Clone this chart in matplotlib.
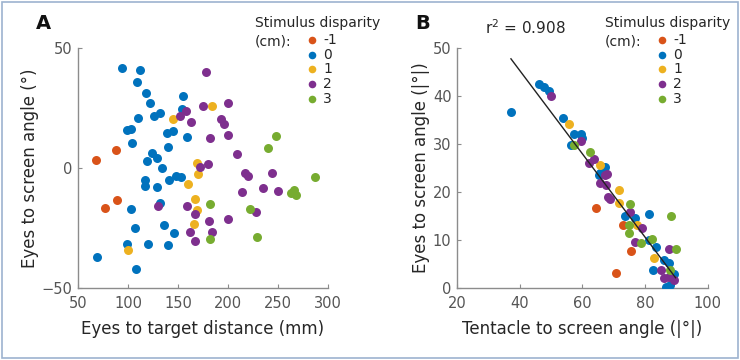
import numpy as np
import matplotlib
matplotlib.use("Agg")
import matplotlib.pyplot as plt
from matplotlib.patches import Rectangle

# disparity groups and MATLAB default colours
disparities = ["-1", "0", "1", "2", "3"]
colors = ["#D95319", "#0072BD", "#EDB120", "#7E2F8E", "#77AC30"]

# Panel A: eyes-to-target distance (mm) vs eyes-to-screen angle (deg)
a_dist = {
    "-1": [68, 88, 77, 89],
    "0": [94, 112, 109, 118, 122, 155, 154, 110, 126, 132, 99, 103, 139, 145, 159,
          104, 140, 124, 119, 129, 134, 117, 117, 129, 141, 148, 153, 132, 103, 107,
          136, 146, 99, 120, 140, 69, 108],
    "1": [145, 184, 169, 170, 100, 160, 167, 169, 166],
    "2": [178, 152, 158, 175, 200, 163, 193, 196, 182, 200, 209, 172, 180, 217, 220,
          244, 130, 159, 167, 162, 167, 181, 184, 200, 214, 228, 235, 250],
    "3": [248, 240, 287, 182, 182, 222, 229, 263, 266, 268],
}
a_angle = {
    "-1": [3.1, 7.6, -16.6, -13.3],
    "0": [41.6, 40.9, 35.6, 31.2, 27.0, 29.8, 24.4, 21.0, 21.5, 23.0, 15.6, 16.3, 14.6,
          15.3, 13.0, 10.2, 8.7, 6.3, 2.8, 4.0, 0.0, -5.1, -7.6, -7.9, -5.1, -3.4, -3.7,
          -14.8, -17.2, -25.1, -23.7, -27.2, -31.8, -31.8, -32.1, -36.9, -42.2],
    "1": [20.3, 25.8, 2.0, -2.7, -34.3, -6.6, -12.9, -17.6, -23.4],
    "2": [40.0, 21.7, 23.7, 25.8, 27.2, 19.1, 20.3, 18.3, 12.4, 13.7, 5.9, 0.2, 1.5,
          -1.9, -3.3, -2.0, -16.0, -15.9, -19.1, -26.8, -30.4, -22.0, -26.8, -21.3,
          -10.0, -18.4, -8.3, -9.7],
    "3": [13.3, 8.4, -3.7, -15.0, -29.8, -17.3, -28.6, -10.4, -9.3, -11.3],
}

# Panel B: tentacle-to-screen angle vs eyes-to-screen angle (absolute, deg)
b_tent = {
    "-1": [64.3, 73.0, 75.6, 70.7],
    "0": [37.2, 46.2, 47.6, 49.4, 53.8, 57.4, 59.5, 60.0, 56.2, 67.2, 65.7, 65.2, 73.7,
          76.9, 81.2, 81.1, 83.3, 86.0, 82.6, 87.5, 86.7, 88.0, 89.1],
    "1": [55.8, 65.5, 71.5, 71.5, 77.4, 82.8],
    "2": [50.0, 59.5, 62.0, 63.6, 67.7, 67.3, 67.6, 65.7, 68.0, 68.9, 75.3, 79.0, 76.6,
          87.5, 84.9, 87.5, 89.1, 85.9],
    "3": [57.4, 62.5, 75.3, 88.3, 74.7, 75.0, 78.7, 82.2, 89.7, 88.0],
}
b_eye = {
    "-1": [16.6, 13.2, 7.7, 3.1],
    "0": [36.7, 42.4, 41.9, 41.1, 35.5, 32.1, 32.1, 31.2, 29.7, 25.1, 23.9, 23.5, 15.0,
          14.5, 15.5, 10.0, 8.6, 5.8, 3.8, 5.2, 0.2, 0.6, 3.0],
    "1": [34.2, 25.7, 20.4, 17.7, 13.1, 6.3],
    "2": [40.0, 30.6, 26.0, 26.8, 23.7, 23.5, 21.4, 21.8, 19.0, 18.5, 15.9, 12.4, 9.6,
          8.2, 3.8, 2.3, 1.6, 2.0],
    "3": [29.7, 28.4, 17.4, 15.0, 13.2, 11.4, 9.4, 10.3, 8.1, 3.7],
}

axis_gray = "#8c8c8c"
tick_gray = "#555555"
label_col = "#262626"

fig = plt.figure(figsize=(7.4, 3.6), dpi=100)
fig.patches.append(Rectangle((0.003, 0.005), 0.994, 0.99, transform=fig.transFigure,
                             fill=False, edgecolor="#9db3cf", linewidth=1.2))

axA = fig.add_axes([0.1054, 0.2, 0.338, 0.667])
axB = fig.add_axes([0.6176, 0.2, 0.339, 0.667])


def style_axis(ax):
    for side in ["top", "right"]:
        ax.spines[side].set_visible(False)
    for side in ["left", "bottom"]:
        ax.spines[side].set_color(axis_gray)
        ax.spines[side].set_linewidth(1.0)
    ax.tick_params(direction="in", length=3, color=axis_gray, labelcolor=tick_gray,
                   labelsize=10.5)
    ax.tick_params(axis="x", pad=6)
    ax.tick_params(axis="y", pad=4)


def draw_legend(ax, x0):
    # MATLAB-style legend: title line, then "(cm):" beside the first entry
    ax.text(x0, 1.104, "Stimulus disparity", transform=ax.transAxes, fontsize=10,
            color=label_col, ha="left", va="center")
    ax.text(x0, 1.027, "(cm):", transform=ax.transAxes, fontsize=10,
            color=label_col, ha="left", va="center")
    for i, (d, c) in enumerate(zip(disparities, colors)):
        yy = 1.033 - i * 0.0615
        ax.scatter([x0 + 0.228], [yy], s=30, color=c, transform=ax.transAxes,
                   clip_on=False, linewidths=0)
        ax.text(x0 + 0.272, yy, d, transform=ax.transAxes, fontsize=10,
                color=label_col, ha="left", va="center")


# Panel A
for d, c in zip(disparities, colors):
    axA.scatter(a_dist[d], a_angle[d], s=42, color=c, linewidths=0, zorder=3)
axA.set_xlim(50, 300)
axA.set_ylim(-50, 50)
axA.set_xticks([50, 100, 150, 200, 250, 300])
axA.set_yticks([-50, 0, 50])
style_axis(axA)
axA.set_xlabel("Eyes to target distance (mm)", fontsize=12, color=label_col, labelpad=6)
axA.set_ylabel("Eyes to screen angle (°)", fontsize=12, color=label_col, labelpad=2)
draw_legend(axA, 0.708)
fig.text(0.048, 0.935, "A", fontsize=14, fontweight="bold", color="#111111",
         ha="left", va="center")

# Panel B
all_x, all_y = [], []
for d, c in zip(disparities, colors):
    axB.scatter(b_tent[d], b_eye[d], s=42, color=c, linewidths=0, zorder=3)
    all_x += b_tent[d]
    all_y += b_eye[d]
all_x = np.array(all_x)
all_y = np.array(all_y)
slope, intercept = np.polyfit(all_x, all_y, 1)
xs = np.array([all_x.min(), all_x.max()])
axB.plot(xs, slope * xs + intercept, color="#222222", linewidth=1.0, zorder=4)
axB.set_xlim(20, 100)
axB.set_ylim(0, 50)
axB.set_xticks([20, 40, 60, 80, 100])
axB.set_yticks([0, 10, 20, 30, 40, 50])
style_axis(axB)
axB.set_xlabel("Tentacle to screen angle (|°|)", fontsize=12, color=label_col, labelpad=6)
axB.set_ylabel("Eyes to screen angle (|°|)", fontsize=12, color=label_col, labelpad=2)
draw_legend(axB, 0.59)
axB.text(0.11, 1.083, "r$^2$ = 0.908", transform=axB.transAxes, fontsize=11,
         color=label_col, ha="left", va="center")
fig.text(0.5605, 0.935, "B", fontsize=14, fontweight="bold", color="#111111",
         ha="left", va="center")

fig.savefig("out.png", dpi=100)
